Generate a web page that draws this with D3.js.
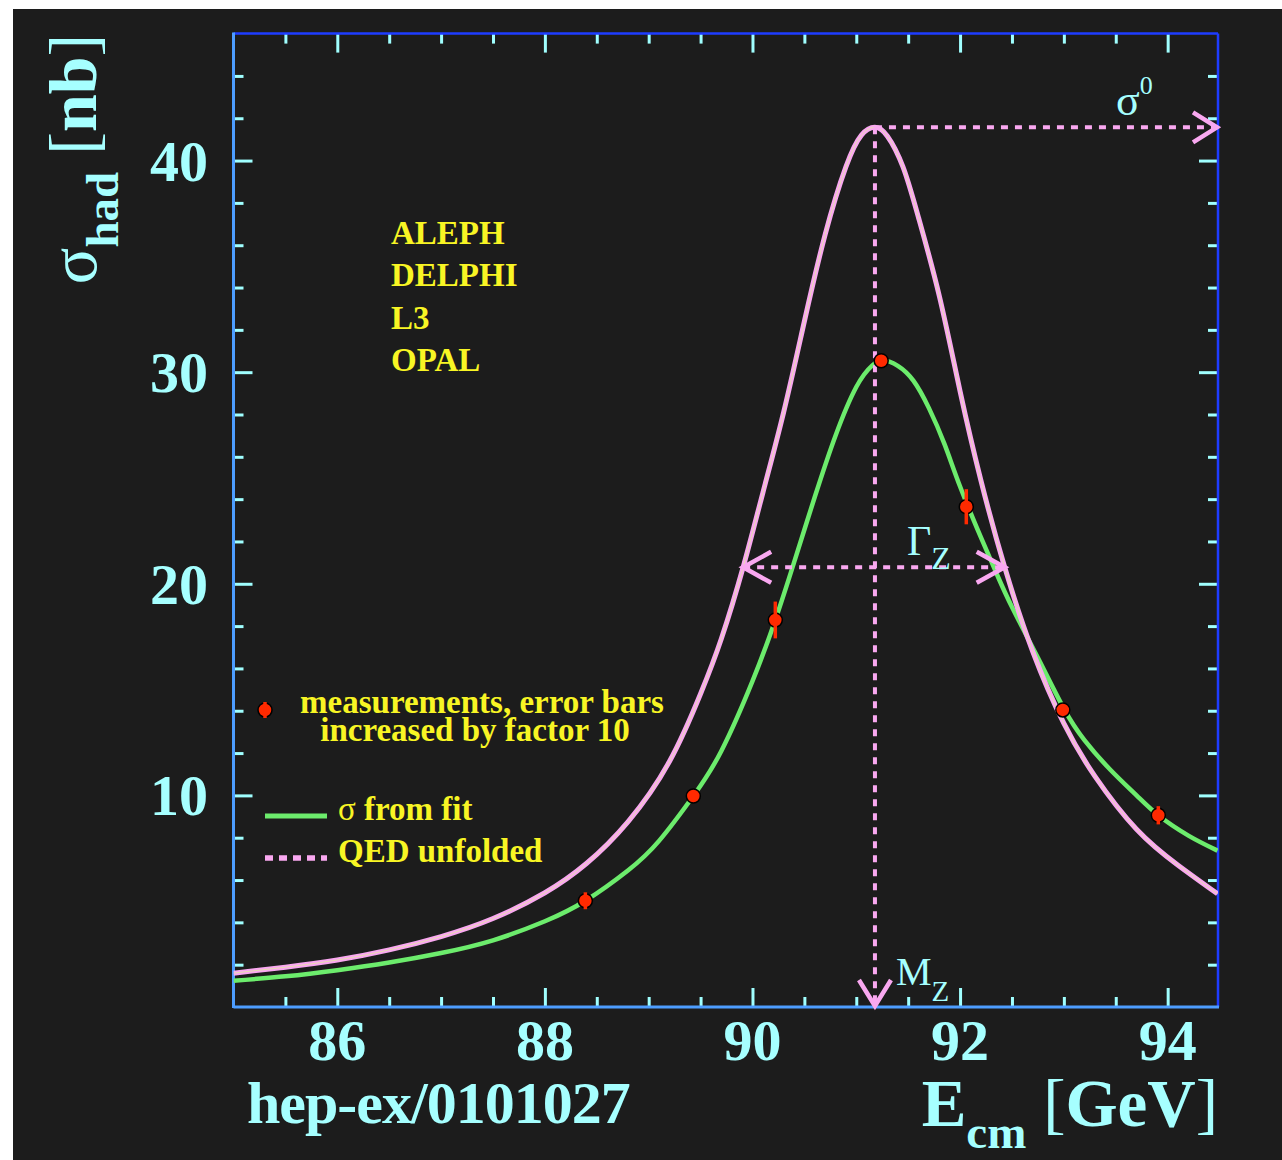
<!DOCTYPE html>
<html>
<head>
<meta charset="utf-8">
<script src="https://cdn.jsdelivr.net/npm/d3@7"></script>
<style>
  body { margin: 0; background: #fff; }
  text { font-family: "Liberation Serif", "Times New Roman", serif; }
</style>
</head>
<body>
<script>
// values
const fit_E     = [85.00, 85.50, 86.00, 86.50, 87.00, 87.50, 88.00, 88.39, 88.80, 89.10, 89.43, 89.70, 90.00, 90.22, 90.40, 90.60, 90.80, 91.00, 91.15, 91.26, 91.40, 91.55, 91.70, 91.85, 92.00, 92.20, 92.35, 92.50, 92.75, 93.00, 93.20, 93.45, 93.70, 93.91, 94.20, 94.48];
const fit_sigma = [1.24, 1.45, 1.74, 2.10, 2.55, 3.15, 4.05, 5.02, 6.45, 7.85, 9.97, 12.1, 15.4, 18.29, 21.0, 24.1, 27.0, 29.3, 30.3, 30.55, 30.3, 29.6, 28.3, 26.6, 24.6, 22.2, 20.5, 18.9, 16.5, 14.1, 12.6, 11.2, 10.0, 9.06, 8.1, 7.39];

const qed_E     = [85.00, 85.50, 86.00, 86.50, 87.00, 87.50, 88.00, 88.40, 88.80, 89.20, 89.50, 89.70, 89.91, 90.10, 90.30, 90.50, 90.70, 90.90, 91.05, 91.18, 91.30, 91.45, 91.60, 91.80, 92.00, 92.20, 92.43, 92.70, 93.00, 93.30, 93.70, 94.10, 94.48];
const qed_sigma = [1.60, 1.88, 2.22, 2.70, 3.33, 4.18, 5.40, 6.78, 8.75, 11.6, 14.8, 17.4, 20.78, 24.3, 28.1, 32.4, 36.5, 39.7, 41.2, 41.57, 41.15, 39.7, 37.3, 33.6, 29.1, 24.9, 20.78, 16.8, 13.4, 10.9, 8.4, 6.7, 5.35];

const meas_E     = [88.39, 89.43, 90.22, 91.24, 92.06, 92.99, 93.91];
const meas_sigma = [5.02, 9.97, 18.29, 30.54, 23.64, 14.04, 9.06];
const meas_err   = [0.40, 0.10, 0.87, 0.10, 0.83, 0.10, 0.43];   // x10 as drawn

const mz = 91.18;
const sigma0 = 41.57;
const gamma_lo = 89.91, gamma_hi = 92.43, half_max = 20.78;

const x_major = [86, 88, 90, 92, 94];
const y_major = [10, 20, 30, 40];
const experiments = ['ALEPH', 'DELPHI', 'L3', 'OPAL'];

const cyan = '#a6ffff';
const tick_color = '#a0ffff';
const yellow = '#f8f524';
const pink = '#f9a8f0';
const green = '#6cec6c';
const red = '#ff2a00';

const x = d3.scaleLinear().domain([85, 94.485]).range([233.5, 1218]);
const y = d3.scaleLinear().domain([0, 46]).range([1007, 33.6]);

const x_minor = d3.range(85.5, 94.49, 0.5).filter(v => !x_major.includes(v));
const y_minor = d3.range(2, 46, 2).filter(v => !y_major.includes(v));

const svg = d3.select('body').append('svg')
  .attr('width', 1282)
  .attr('height', 1160);

svg.append('rect').attr('width', 1282).attr('height', 1160).attr('fill', '#fff');
svg.append('rect').attr('x', 13).attr('y', 9).attr('width', 1269).attr('height', 1151).attr('fill', '#1c1c1c');

function tick_axis(axis_fn, scale, values, size, transform) {
  svg.append('g')
    .attr('transform', transform)
    .call(axis_fn(scale).tickValues(values).tickSize(size).tickFormat(''))
    .call(g => g.select('.domain').remove())
    .call(g => g.selectAll('line').attr('stroke', tick_color).attr('stroke-width', 3));
}

const [x0, x1] = x.range();
const [y0, y1] = y.range();

tick_axis(d3.axisBottom, x, x_minor, -10, 'translate(0,' + y0 + ')');
tick_axis(d3.axisBottom, x, x_major, -19, 'translate(0,' + y0 + ')');
tick_axis(d3.axisTop, x, x_minor, -10, 'translate(0,' + y1 + ')');
tick_axis(d3.axisTop, x, x_major, -19, 'translate(0,' + y1 + ')');
tick_axis(d3.axisLeft, y, y_minor, -10, 'translate(' + x0 + ',0)');
tick_axis(d3.axisLeft, y, y_major, -19, 'translate(' + x0 + ',0)');
tick_axis(d3.axisRight, y, y_minor, -10, 'translate(' + x1 + ',0)');
tick_axis(d3.axisRight, y, y_major, -19, 'translate(' + x1 + ',0)');

// frame
svg.append('line').attr('x1', x0).attr('x2', x1).attr('y1', y1).attr('y2', y1)
  .attr('stroke', '#1e3cff').attr('stroke-width', 2.5);
svg.append('line').attr('x1', x1).attr('x2', x1).attr('y1', y1).attr('y2', y0)
  .attr('stroke', '#1e3cff').attr('stroke-width', 2.5);
svg.append('line').attr('x1', x0).attr('x2', x0).attr('y1', y1 - 1).attr('y2', y0 + 1)
  .attr('stroke', '#4d9dff').attr('stroke-width', 3);
svg.append('line').attr('x1', x0).attr('x2', x1 + 1).attr('y1', y0).attr('y2', y0)
  .attr('stroke', '#4d9dff').attr('stroke-width', 3);

// tick labels
svg.selectAll('.xlab').data(x_major).enter().append('text')
  .attr('class', 'xlab')
  .attr('x', d => x(d)).attr('y', 1060)
  .attr('text-anchor', 'middle')
  .attr('font-size', 58).attr('font-weight', 'bold')
  .attr('fill', cyan)
  .text(d => d);

svg.selectAll('.ylab').data(y_major).enter().append('text')
  .attr('class', 'ylab')
  .attr('x', 208).attr('y', d => y(d) + 20)
  .attr('text-anchor', 'end')
  .attr('font-size', 58).attr('font-weight', 'bold')
  .attr('fill', cyan)
  .text(d => d);

// axis titles
const xt = svg.append('text')
  .attr('x', 1218).attr('y', 1126)
  .attr('text-anchor', 'end')
  .attr('fill', cyan).attr('font-size', 67);
xt.append('tspan').attr('font-weight', 'bold').text('E');
xt.append('tspan').attr('font-weight', 'bold').attr('font-size', 47).attr('dy', 22).text('cm');
xt.append('tspan').attr('dy', -22).text(' [');
xt.append('tspan').attr('font-weight', 'bold').text('GeV');
xt.append('tspan').text(']');

const yt = svg.append('text')
  .attr('transform', 'translate(96,159) rotate(-90)')
  .attr('text-anchor', 'middle')
  .attr('fill', cyan).attr('font-size', 68);
yt.append('tspan').text('σ');
yt.append('tspan').attr('font-weight', 'bold').attr('font-size', 47).attr('dy', 22).text('had');
yt.append('tspan').attr('dy', -22).text(' [');
yt.append('tspan').attr('font-weight', 'bold').text('nb');
yt.append('tspan').text(']');

svg.append('text')
  .attr('x', 247).attr('y', 1123)
  .attr('fill', cyan).attr('font-size', 60).attr('font-weight', 'bold')
  .attr('letter-spacing', -1)
  .text('hep-ex/0101027');

// curves
svg.append('clipPath').attr('id', 'plot_clip')
  .append('rect').attr('x', x0).attr('y', y1).attr('width', x1 - x0).attr('height', y0 - y1);

const line = d3.line()
  .x(d => x(d[0]))
  .y(d => y(d[1]))
  .curve(d3.curveNatural);

const curves = svg.append('g').attr('clip-path', 'url(#plot_clip)');
curves.append('path')
  .attr('d', line(d3.zip(fit_E, fit_sigma)))
  .attr('fill', 'none').attr('stroke', green).attr('stroke-width', 4.5);
curves.append('path')
  .attr('d', line(d3.zip(qed_E, qed_sigma)))
  .attr('fill', 'none').attr('stroke', pink).attr('stroke-width', 5);
curves.append('path')
  .attr('d', line(d3.zip(qed_E, qed_sigma)))
  .attr('fill', 'none').attr('stroke', '#e4eba0').attr('stroke-width', 1).attr('opacity', 0.8);

// dashed arrows
function dashed(xa, ya, xb, yb) {
  svg.append('line')
    .attr('x1', xa).attr('y1', ya).attr('x2', xb).attr('y2', yb)
    .attr('stroke', pink).attr('stroke-width', 4)
    .attr('stroke-dasharray', '7,7');
}
function head(tx, ty, ax, ay, bx, by) {
  svg.append('path')
    .attr('d', 'M' + (tx + ax) + ',' + (ty + ay) + 'L' + tx + ',' + ty + 'L' + (tx + bx) + ',' + (ty + by))
    .attr('fill', 'none').attr('stroke', pink).attr('stroke-width', 4.5);
}

dashed(x(mz), y(sigma0), x(mz), y(0));
head(x(mz), y(0) - 1, -16, -26, 16, -26);
dashed(x(mz), y(sigma0), x1, y(sigma0));
head(x1 - 1, y(sigma0), -24, -15, -24, 15);
dashed(x(gamma_lo), y(half_max), x(gamma_hi), y(half_max));
head(x(gamma_lo), y(half_max), 28, -15.5, 28, 15.5);
head(x(gamma_hi), y(half_max), -28, -15.5, -28, 15.5);

// annotation labels
const s0 = svg.append('text').attr('x', 1116).attr('y', 115).attr('fill', cyan).attr('font-size', 44);
s0.append('tspan').text('σ');
s0.append('tspan').attr('font-size', 26).attr('dy', -21).text('0');

const gz = svg.append('text').attr('x', 907).attr('y', 555).attr('fill', cyan).attr('font-size', 42);
gz.append('tspan').text('Γ');
gz.append('tspan').attr('font-size', 32).attr('dy', 14).text('Z');

const mzl = svg.append('text').attr('x', 896).attr('y', 985).attr('fill', cyan).attr('font-size', 40);
mzl.append('tspan').text('M');
mzl.append('tspan').attr('font-size', 29).attr('dy', 16).text('Z');

// measurements
const pts = svg.selectAll('.meas')
  .data(d3.zip(meas_E, meas_sigma, meas_err))
  .enter().append('g').attr('class', 'meas');
pts.append('circle')
  .attr('cx', d => x(d[0])).attr('cy', d => y(d[1]))
  .attr('r', 7)
  .attr('fill', red).attr('stroke', '#000').attr('stroke-width', 1.5);
pts.append('line')
  .attr('x1', d => x(d[0])).attr('x2', d => x(d[0]))
  .attr('y1', d => y(d[1] - d[2])).attr('y2', d => y(d[1] + d[2]))
  .attr('stroke', red).attr('stroke-width', 3.5);

// experiments
svg.selectAll('.exp').data(experiments).enter().append('text')
  .attr('class', 'exp')
  .attr('x', 391).attr('y', (d, i) => 244 + i * 42.3)
  .attr('fill', yellow).attr('font-size', 33).attr('font-weight', 'bold')
  .text(d => d);

// legend
const leg = svg.append('g');
leg.append('circle').attr('cx', 265).attr('cy', 710).attr('r', 7)
  .attr('fill', red).attr('stroke', '#000').attr('stroke-width', 1.5);
leg.append('line').attr('x1', 265).attr('x2', 265).attr('y1', 702).attr('y2', 718)
  .attr('stroke', red).attr('stroke-width', 3.5);
leg.append('text').attr('x', 482).attr('y', 713).attr('text-anchor', 'middle')
  .attr('fill', yellow).attr('font-size', 33).attr('font-weight', 'bold')
  .text('measurements, error bars');
leg.append('text').attr('x', 475).attr('y', 741).attr('text-anchor', 'middle')
  .attr('fill', yellow).attr('font-size', 33).attr('font-weight', 'bold')
  .text('increased by factor 10');

leg.append('line').attr('x1', 265).attr('x2', 327).attr('y1', 816).attr('y2', 816)
  .attr('stroke', green).attr('stroke-width', 5);
const l1 = leg.append('text').attr('x', 338).attr('y', 820)
  .attr('fill', yellow).attr('font-size', 33).attr('font-weight', 'bold');
l1.append('tspan').attr('font-weight', 'normal').text('σ');
l1.append('tspan').text(' from fit');

leg.append('line').attr('x1', 265).attr('x2', 327).attr('y1', 858).attr('y2', 858)
  .attr('stroke', pink).attr('stroke-width', 5.5).attr('stroke-dasharray', '8,6');
leg.append('text').attr('x', 338).attr('y', 862)
  .attr('fill', yellow).attr('font-size', 33).attr('font-weight', 'bold')
  .text('QED unfolded');
</script>
</body>
</html>
